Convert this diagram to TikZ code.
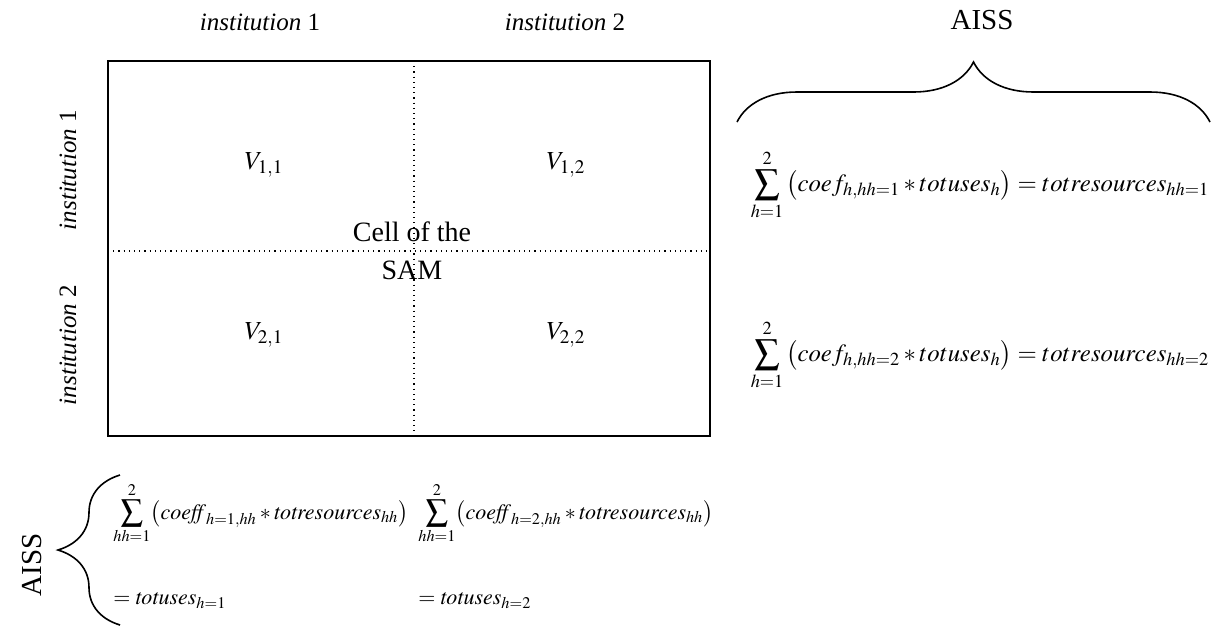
\documentclass[tikz,border=0pt]{standalone}
\usepackage{mathptmx}
\usepackage{fontspec}
\setmainfont{Liberation Serif}
\usetikzlibrary{decorations.pathreplacing,positioning}

\begin{document}
\begin{tikzpicture}[x=0.5pt, y=-0.5pt,
    lab/.style={font=\fontsize{12.5}{14}\selectfont, inner sep=1pt},
    cellv/.style={font=\fontsize{13}{15}\selectfont},
    eq/.style={font=\fontsize{12.4}{14}\selectfont, inner sep=0pt},
    eqb/.style={font=\fontsize{11}{13}\selectfont, inner sep=0pt, align=left, anchor=north west},
    curly/.style={decorate, line width=0.8pt}]
    \useasboundingbox (0,0) rectangle (1223,628);
    % the SAM table
    \coordinate (tl) at (108,61);
    \coordinate (br) at (710,436);
    \coordinate (mt) at (414,61);
    \coordinate (mb) at (414,440);
    \coordinate (ml) at (108,251);
    \coordinate (mr) at (710,251);
    \draw[line width=1pt] (tl) rectangle (br);
    \draw[dotted, line width=0.6pt] (mt) -- (mb);
    \draw[dotted, line width=0.6pt] (ml) -- (mr);
    % headers
    \node[lab] (col1) at (260,22) {\textit{institution} 1};
    \node[lab] (col2) at (565,22) {\textit{institution} 2};
    \node[lab, rotate=90] (row1) at (68,170) {\textit{institution} 1};
    \node[lab, rotate=90] (row2) at (68,345) {\textit{institution} 2};
    % cells
    \node[cellv] (v11) at (264,165) {$V_{1,1}$};
    \node[cellv] (v12) at (566,165) {$V_{1,2}$};
    \node[cellv] (v21) at (264,335) {$V_{2,1}$};
    \node[cellv] (v22) at (566,335) {$V_{2,2}$};
    \node[align=center, font=\fontsize{14}{19}\selectfont] (cell) at (412,251) {Cell of the\\SAM};
    % row sums
    \node[font=\fontsize{14.5}{16}\selectfont] (aiss) at (982,20) {AISS};
    \coordinate (bra) at (737,122);
    \coordinate (brb) at (1210,122);
    \draw[curly, decoration={brace, amplitude=30pt}] (bra) -- (brb);
    \node[eq] (rs1) at (980,185) {$\displaystyle\sum_{h=1}^{2}\left(coef_{h,hh=1}*totuses_{h}\right)=totresources_{hh=1}$};
    \node[eq] (rs2) at (980,355) {$\displaystyle\sum_{h=1}^{2}\left(coef_{h,hh=2}*totuses_{h}\right)=totresources_{hh=2}$};
    % column sums
    \node[font=\fontsize{14.5}{16}\selectfont, rotate=90] (aiss2) at (32,565) {AISS};
    \coordinate (bla) at (120,625);
    \coordinate (blb) at (120,475);
    \draw[curly, decoration={brace, amplitude=31pt}] (bla) -- (blb);
    \node[eqb] (cs1) at (113,482) {$\displaystyle\sum_{\mathit{hh}=1}^{2}\!\left(\mathit{coeff}_{h=1,\mathit{hh}}*\mathit{totresources}_{\mathit{hh}}\right)$\\[23pt]$=\mathit{totuses}_{h=1}$};
    \node[eqb] (cs2) at (418,482) {$\displaystyle\sum_{\mathit{hh}=1}^{2}\!\left(\mathit{coeff}_{h=2,\mathit{hh}}*\mathit{totresources}_{\mathit{hh}}\right)$\\[23pt]$=\mathit{totuses}_{h=2}$};
\end{tikzpicture}
\end{document}
